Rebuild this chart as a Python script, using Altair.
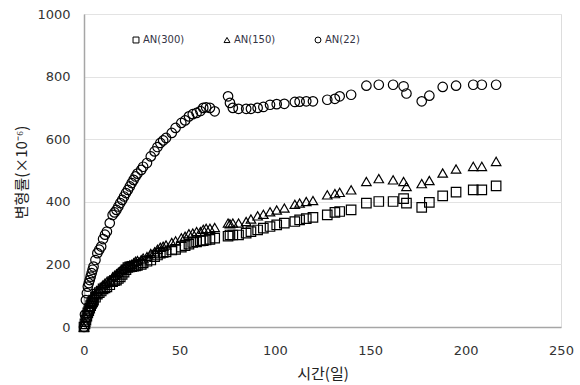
import altair as alt
import pandas as pd

days = [0, 0.5, 1, 1.5, 2, 2.5, 3, 3.5, 4, 4.5,
        5, 6, 7, 8, 9, 10, 11, 12, 13.5, 15,
        16, 17, 18, 19, 20, 21, 22, 23, 24, 25,
        26, 27, 28, 30, 31, 33, 35, 37, 38.5, 40,
        41.5, 43, 46, 48, 51, 53, 55, 57, 59, 61,
        62.5, 64, 66, 68.5,
        75.5, 76.5, 78, 81, 85, 87.5, 91, 94, 97.5, 101, 105, 110.5, 113, 116.5, 120,
        127.5, 131.5, 134, 140, 148, 154.5, 162, 167.5, 169, 177, 181, 188, 195, 204,
        208.5, 216]

an22 = [0, 40, 86, 108, 129, 140, 150, 161, 172, 183,
        193, 214, 236, 247, 257, 281, 295, 305, 332, 358,
        366, 374, 385, 396, 406, 417, 428, 438, 449, 460,
        470, 481, 490, 502, 512, 524, 545, 561, 575, 588,
        596, 604, 620, 636, 652, 660, 673, 680, 684, 690,
        700, 702, 700, 689,
        737, 716, 700, 697, 697, 697, 700, 703, 710, 712, 713, 719, 720, 721, 721,
        726, 729, 737, 742, 771, 774, 774, 769, 746, 721, 739, 767, 771, 774, 774, 774]

an150 = [0, 15, 30, 45, 55, 65, 75, 82, 90, 95,
         100, 105, 115, 120, 125, 135, 140, 145, 150, 160,
         165, 170, 175, 180, 184, 188, 192, 195, 198, 200,
         205, 210, 212, 215, 220, 225, 235, 240, 248, 255,
         258, 262, 270, 275, 285, 290, 298, 300, 305, 305,
         312, 315, 315, 318,
         332, 330, 332, 332, 337, 345, 355, 360, 368, 374, 380, 392, 396, 401, 404,
         422, 426, 430, 438, 465, 474, 470, 465, 449, 458, 468, 492, 505, 513, 513, 529]

an300 = [0, 10, 22, 35, 45, 52, 60, 68, 75, 80,
         86, 95, 105, 110, 115, 122, 125, 128, 135, 145,
         148, 150, 155, 160, 168, 175, 183, 190, 192, 193,
         194, 195, 197, 200, 205, 210, 214, 225, 230, 236,
         238, 240, 246, 248, 255, 260, 265, 270, 272, 275,
         276, 278, 280, 284,
         290, 294, 294, 294, 300, 305, 310, 316, 321, 326, 332, 337, 342, 346, 350,
         358, 366, 369, 374, 396, 401, 401, 410, 396, 382, 398, 419, 431, 438, 438, 451]

series_names = ["AN(300)", "AN(150)", "AN(22)"]
shapes = ["square", "triangle-up", "circle"]

rows = []
for name, vals in zip(series_names, [an300, an150, an22]):
    for d, v in zip(days, vals):
        rows.append({"day": d, "strain": v, "series": name})
df = pd.DataFrame(rows)

chart = alt.Chart(df).mark_point(
    filled=False, stroke="black", strokeWidth=1.2, size=90, opacity=1
).encode(
    x=alt.X("day:Q", scale=alt.Scale(domain=[0, 250], nice=False),
            axis=alt.Axis(values=[0, 50, 100, 150, 200, 250], title="시간(일)",
                          grid=False, ticks=False, labelPadding=17, labelFlush=False,
                          domainColor="#a6a6a6", domainWidth=1.5, format="d",
                          labelFont="DejaVu Sans", labelFontSize=13, labelColor="#333333",
                          titleFont="Noto Sans CJK KR", titleFontSize=15,
                          titleFontWeight="normal", titleColor="#222222", titlePadding=9)),
    y=alt.Y("strain:Q", scale=alt.Scale(domain=[0, 1000], nice=False),
            axis=alt.Axis(values=[0, 200, 400, 600, 800, 1000], title="변형률(×10⁻⁶)",
                          grid=True, gridColor="#e3e3e3", gridWidth=1, ticks=False,
                          labelPadding=14, labelFlush=False, format="d",
                          domainColor="#a6a6a6", domainWidth=1.5,
                          labelFont="DejaVu Sans", labelFontSize=13, labelColor="#333333",
                          titleFont="Noto Sans CJK KR", titleFontSize=15,
                          titleFontWeight="normal", titleColor="#222222",
                          titleX=-55, titleY=158, titleAngle=-90,
                          titleAlign="center", titleBaseline="bottom")),
    shape=alt.Shape("series:N",
                    scale=alt.Scale(domain=series_names, range=shapes),
                    legend=alt.Legend(title=None, orient="none", direction="horizontal",
                                      legendX=47, legendY=21, columnPadding=37,
                                      symbolSize=35, symbolStrokeColor="black",
                                      symbolFillColor="transparent", symbolStrokeWidth=1,
                                      labelFont="DejaVu Sans", labelFontSize=10,
                                      labelColor="#333344", labelOffset=2)),
).properties(
    width=477, height=313,
    autosize=alt.AutoSizeParams(type="none"),
    padding={"left": 84, "top": 14, "right": 19, "bottom": 58},
).configure_view(
    stroke="#404040", strokeWidth=1.5
).configure(background="white")

chart.save("out.html", embed_options={"renderer": "svg", "actions": False})
